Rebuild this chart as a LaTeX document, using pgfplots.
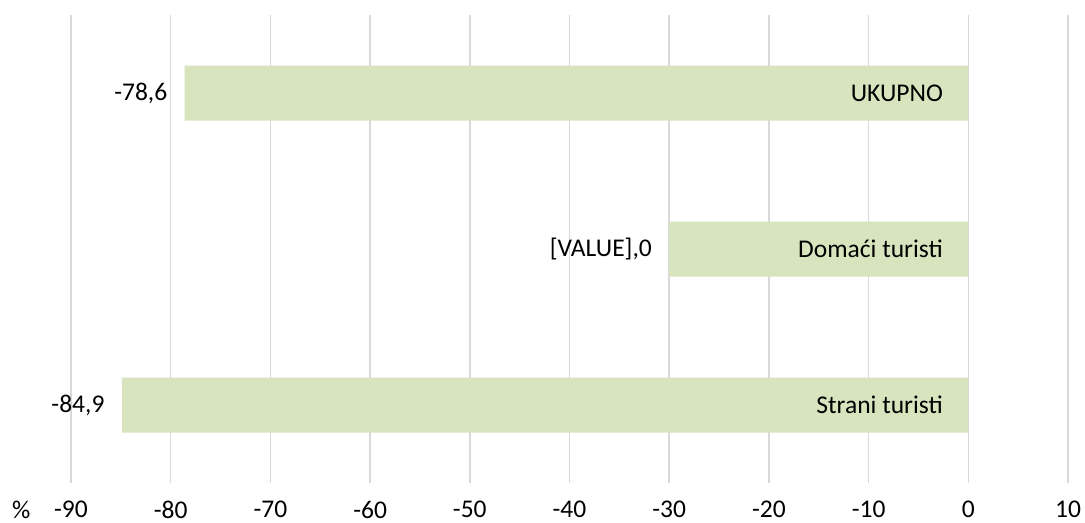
\documentclass[border=0pt]{standalone}
\usepackage{fontspec}
\setmainfont{Carlito}
\usepackage{pgfplots}
\pgfplotsset{compat=1.18}
\definecolor{barfill}{HTML}{D7E4BD}
\definecolor{gridc}{HTML}{D9D9D9}
\begin{document}
\fontsize{12.8}{15}\selectfont
\begin{tikzpicture}
\path[use as bounding box] (-35.5bp,-20bp) rectangle (507bp,241.5bp);
\begin{axis}[
    at={(0,0)}, anchor=south west,
    scale only axis,
    width=498.5bp, height=234bp,
    xbar, bar width=27.5bp,
    xmin=-90, xmax=10,
    ymin=-0.5, ymax=2.5,
    y dir=reverse,
    axis line style={draw=none},
    xtick={-90,-80,...,10},
    xticklabels={{-90},{-80},{-70},{-60},{-50},{-40},{-30},{-20},{-10},{0},{10}},
    ytick=\empty,
    major tick length=0pt,
    xmajorgrids,
    grid style={gridc, line width=0.75bp},
    xticklabel style={anchor=north, inner sep=0pt, yshift=-9bp},
    point meta=explicit symbolic,
    nodes near coords,
    nodes near coords style={anchor=east, inner sep=0pt, xshift=-8.5bp, black},
    clip=false,
]
\addplot[fill=barfill, draw=none] coordinates {
    (-78.6,0) [{-78,6}]
    (-30,1) [{[VALUE],0}]
    (-84.9,2) [{-84,9}]
};
\node[anchor=east, inner sep=0pt] at (axis cs:0,0) [xshift=-12.5bp] {UKUPNO};
\node[anchor=east, inner sep=0pt] at (axis cs:0,1) [xshift=-12.5bp] {Domaći turisti};
\node[anchor=east, inner sep=0pt] at (axis cs:0,2) [xshift=-12.5bp] {Strani turisti};
\node[anchor=north, inner sep=0pt] at (rel axis cs:-0.05,0) [yshift=-9bp] {\%};
\end{axis}
\end{tikzpicture}
\end{document}
